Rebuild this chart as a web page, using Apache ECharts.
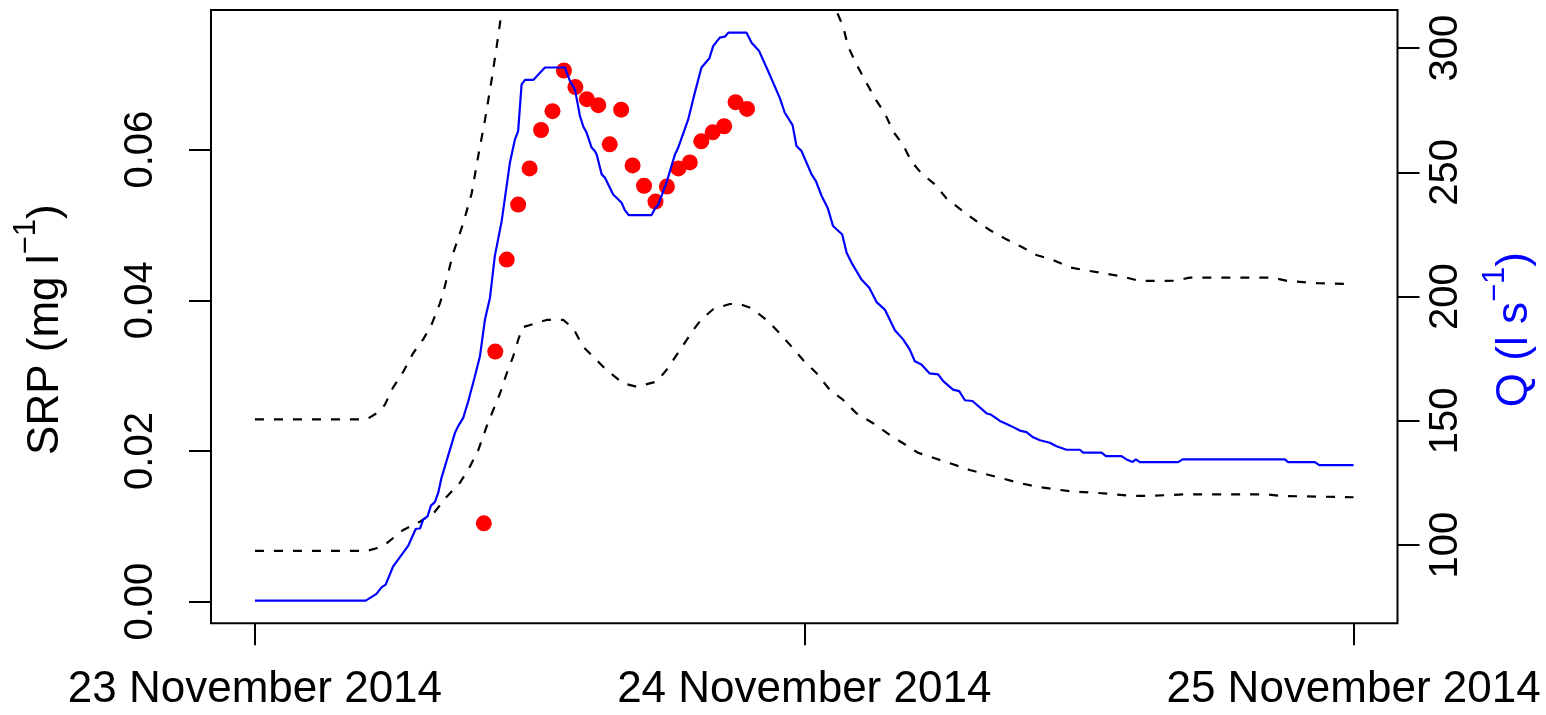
<!DOCTYPE html>
<html>
<head>
<meta charset="utf-8">
<script src="https://cdn.jsdelivr.net/npm/echarts@6/dist/echarts.min.js"></script>
<style>
  html, body { margin: 0; padding: 0; background: #fff; }
  #srpChart { width: 1546px; height: 715px; }
</style>
</head>
<body>
<div id="srpChart"></div>
<script>
// hours since 23 Nov 2014 00:00
const dayTicks = [0, 24, 48]
const dayLabels = ["23 November 2014", "24 November 2014", "25 November 2014"]
const srpTicks = [0, 0.02, 0.04, 0.06]
const qTicks = [100, 150, 200, 250, 300]

// measured SRP (red points)
const srpHours = [10, 10.5, 11, 11.5, 12, 12.5, 13, 13.5, 14, 14.5, 15, 15.5,
  16, 16.5, 17, 17.5, 18, 18.5, 19, 19.5, 20, 20.5, 21, 21.5]
const srpValues = [0.0104, 0.0332, 0.0454, 0.0527, 0.0575, 0.0626, 0.0651, 0.0705,
  0.0683, 0.0667, 0.0659, 0.0607, 0.0653, 0.0579, 0.0552, 0.0531, 0.0551, 0.0575,
  0.0583, 0.0611, 0.0623, 0.0631, 0.0663, 0.0654]

// discharge Q (blue line)
const qHours = [0, 4.84, 5.31, 5.53, 5.71, 6.04, 6.7, 7.03, 7.21, 7.35, 7.54, 7.69,
  7.86, 8.01, 8.15, 8.74, 8.88, 9.1, 9.32, 9.61, 9.83, 10.05, 10.27, 10.48, 10.78,
  11.14, 11.36, 11.5, 11.65, 11.8, 12.16, 12.67, 13.54, 13.76, 13.98, 14.2, 14.34,
  14.49, 14.71, 14.85, 14.93, 15.15, 15.29, 15.65, 15.8, 16.02, 16.16, 16.33, 17.33,
  17.47, 17.62, 17.98, 18.35, 18.49, 18.93, 19.22, 19.51, 19.85, 20.02, 20.31, 20.53,
  20.68, 21.48, 21.7, 22.03, 22.42, 22.93, 23.15, 23.49, 23.66, 23.88, 24.32, 24.51,
  24.76, 25.02, 25.26, 25.66, 25.85, 26.07, 26.5, 26.84, 27.16, 27.52, 27.96, 28.32,
  28.61, 28.83, 29.12, 29.48, 29.85, 30.07, 30.5, 30.77, 31.02, 31.35, 31.97, 32.14,
  32.55, 32.84, 33.13, 33.42, 33.71, 34, 34.3, 34.73, 35.02, 35.46, 36.04, 36.19,
  36.99, 37.18, 37.86, 38.08, 38.35, 38.49, 38.66, 40.34, 40.53, 45, 45.14, 46.31,
  46.5, 48]
const qValues = [77.7, 77.7, 80.4, 83.0, 84.1, 91.5, 99.8, 106.6, 106.7, 110.3, 111.6,
  115.9, 117.3, 121.1, 127.1, 145.2, 147.9, 151.2, 157.9, 168.0, 176.0, 190.8, 199.6,
  216.3, 230.4, 253.9, 263.3, 266.6, 285.4, 287.2, 287.2, 292.2, 292.2, 286.8, 283.4,
  272.7, 268.6, 266.0, 260.0, 258.6, 257.2, 249.2, 247.9, 241.1, 239.8, 237.8, 234.8,
  232.8, 232.8, 235.4, 237.0, 245.9, 257.2, 259.9, 271.3, 282.1, 292.2, 295.8, 300.8,
  304.2, 304.6, 306.2, 306.2, 302.2, 298.8, 290.8, 280.0, 274.0, 269.0, 260.6, 258.6,
  249.2, 246.5, 240.5, 235.8, 228.4, 225.0, 217.7, 213.6, 206.9, 203.6, 197.8, 194.8,
  186.5, 182.8, 178.7, 174.0, 172.7, 169.1, 168.7, 166.0, 162.6, 162.0, 158.3, 158.0,
  153.0, 152.6, 150.0, 148.8, 147.5, 146.1, 145.5, 143.4, 142.2, 141.2, 139.8, 138.4,
  138.4, 137.2, 137.2, 135.8, 135.8, 134.5, 133.5, 134.5, 133.4, 133.4, 134.5, 134.5,
  133.4, 133.4, 132.2, 132.2]

// lower bound (dashed)
const lowerHours = [0, 4.88, 5.31, 5.75, 6.48, 7.21, 7.86, 8.38, 8.96, 9.39, 9.76,
  10.12, 10.41, 10.71, 11, 11.28, 11.5, 11.69, 12.16, 12.74, 13.47, 13.91, 14.34, 15,
  15.36, 16.09, 16.67, 17.55, 17.98, 18.57, 19.15, 19.51, 20.02, 20.75, 21.19, 21.7,
  22.36, 22.93, 23.45, 23.95, 24.54, 25.12, 25.7, 26.28, 27.01, 27.74, 28.32, 28.97,
  29.7, 30.5, 31.23, 32.25, 33.35, 34.15, 34.95, 35.75, 36.63, 37.43, 38.16, 38.96,
  40.71, 44.21, 44.79, 48]
const lowerValues = [0.00673, 0.00673, 0.00709, 0.00775, 0.00952, 0.01062, 0.01194,
  0.01394, 0.0158, 0.01792, 0.02013, 0.02323, 0.02544, 0.02766, 0.03031, 0.03252,
  0.03473, 0.03642, 0.03686, 0.03739, 0.03739, 0.03628, 0.03384, 0.03185, 0.03075,
  0.02898, 0.02853, 0.0292, 0.03075, 0.0334, 0.03606, 0.03748, 0.03881, 0.03951,
  0.03951, 0.03894, 0.03739, 0.03562, 0.03384, 0.03208, 0.03031, 0.0281, 0.02677,
  0.025, 0.02368, 0.02212, 0.02102, 0.01977, 0.01903, 0.01823, 0.01748, 0.01668,
  0.01579, 0.01526, 0.01492, 0.0146, 0.01447, 0.01429, 0.01407, 0.01403, 0.01425,
  0.01425, 0.01403, 0.01386]

// upper bound (dashed, runs off the top between ~11h and ~25h)
const upperHours = [0, 4.88, 5.31, 5.67, 6.04, 6.48, 6.91, 7.35, 7.71, 8.08, 8.22,
  8.66, 9.1, 9.47, 9.75, 10.05, 10.34, 10.56, 10.78, 11.5, 12.2, 12.7, 13.5, 14.3, 15,
  16.1, 16.7, 17.5, 18, 18.6, 19.5, 20.7, 21.2, 21.7, 22.9, 24, 25, 25.34, 25.7, 25.92,
  26.26, 26.65, 27.09, 27.52, 27.89, 28.32, 28.69, 29.12, 29.7, 30.21, 30.87, 31.45,
  32.1, 32.83, 33.49, 34.14, 34.87, 35.59, 36.39, 37.12, 37.92, 38.65, 40.25, 40.83,
  44.46, 45.12, 46.5, 48]
const upperValues = [0.0242, 0.0242, 0.025, 0.0261, 0.02845, 0.03052, 0.03297,
  0.03482, 0.03672, 0.0396, 0.04093, 0.04624, 0.05022, 0.0542, 0.05906, 0.06393,
  0.06924, 0.07366, 0.0783, 0.0985, 0.1045, 0.1065, 0.1065, 0.0975, 0.091, 0.083,
  0.0815, 0.0835, 0.0875, 0.095, 0.1065, 0.1125, 0.1125, 0.111, 0.1015, 0.0915, 0.082,
  0.0789, 0.07631, 0.07366, 0.07145, 0.06924, 0.06681, 0.06482, 0.06238, 0.06061,
  0.05839, 0.05685, 0.0554, 0.05354, 0.05198, 0.05066, 0.04933, 0.04809, 0.04711,
  0.04601, 0.04535, 0.04438, 0.04393, 0.04358, 0.04313, 0.04256, 0.0426, 0.043, 0.043,
  0.04256, 0.04226, 0.04216]

const zip = (xs, ys) => xs.map((x, i) => [x, ys[i]])

const fontFamily = "'Liberation Sans', Arial, sans-serif"
const tickStyle = { color: "#000", width: 2 }

const chart = echarts.init(document.getElementById("srpChart"), null, { renderer: "canvas" })

const options = {
  animation: false,
  backgroundColor: "#fff",
  grid: {
    left: 211,
    top: 10,
    right: 148.5,
    bottom: 91.7,
    outerBoundsMode: "none",
    show: true,
    borderColor: "#000",
    borderWidth: 2,
    backgroundColor: "transparent"
  },
  xAxis: {
    type: "value",
    min: -1.92,
    max: 49.92,
    axisLine: { show: false, onZero: false },
    splitLine: { show: false },
    axisTick: { show: true, customValues: dayTicks, length: 22, lineStyle: tickStyle },
    axisLabel: {
      customValues: dayTicks,
      formatter: v => dayLabels[dayTicks.indexOf(v)],
      fontSize: 44,
      fontFamily: fontFamily,
      color: "#000",
      margin: 45
    }
  },
  yAxis: [
    {
      type: "value",
      position: "left",
      min: -0.00287,
      max: 0.07853,
      axisLine: { show: false, onZero: false },
      splitLine: { show: false },
      axisTick: { show: true, customValues: srpTicks, length: 22, lineStyle: tickStyle },
      axisLabel: {
        customValues: srpTicks,
        formatter: v => v.toFixed(2),
        rotate: 90,
        fontSize: 40,
        fontFamily: fontFamily,
        color: "#000",
        margin: 50
      },
      name: "SRP (mg l{sup|−1})",
      nameLocation: "middle",
      nameRotate: 90,
      nameGap: 130,
      nameTextStyle: {
        fontSize: 44,
        lineHeight: 70,
        fontFamily: fontFamily,
        color: "#000",
        padding: [0, 26, 0, 0],
        rich: {
          sup: { fontSize: 31, lineHeight: 31, fontFamily: fontFamily, color: "#000", verticalAlign: "top" }
        }
      }
    },
    {
      type: "value",
      position: "right",
      min: 68.56,
      max: 315.34,
      axisLine: { show: false, onZero: false },
      splitLine: { show: false },
      axisTick: { show: true, customValues: qTicks, length: 22, lineStyle: tickStyle },
      axisLabel: {
        customValues: qTicks,
        rotate: 90,
        fontSize: 40,
        fontFamily: fontFamily,
        color: "#000",
        margin: 28
      },
      name: "Q (l s{sup|−1})",
      nameLocation: "middle",
      nameRotate: 90,
      nameGap: 82,
      nameTextStyle: {
        fontSize: 44,
        lineHeight: 70,
        fontFamily: fontFamily,
        color: "#0000ff",
        padding: [0, 26, 0, 0],
        rich: {
          sup: { fontSize: 31, lineHeight: 31, fontFamily: fontFamily, color: "#0000ff", verticalAlign: "top" }
        }
      }
    }
  ],
  series: [
    {
      name: "lower",
      type: "line",
      yAxisIndex: 0,
      data: zip(lowerHours, lowerValues),
      showSymbol: false,
      lineStyle: { color: "#000", width: 2.2, type: [9, 10] },
      z: 2
    },
    {
      name: "upper",
      type: "line",
      yAxisIndex: 0,
      data: zip(upperHours, upperValues),
      showSymbol: false,
      clip: true,
      lineStyle: { color: "#000", width: 2.2, type: [9, 10] },
      z: 2
    },
    {
      name: "SRP",
      type: "scatter",
      yAxisIndex: 0,
      data: zip(srpHours, srpValues),
      symbol: "circle",
      symbolSize: 16,
      itemStyle: { color: "#ff0000", opacity: 1 },
      z: 3
    },
    {
      name: "Q",
      type: "line",
      yAxisIndex: 1,
      data: zip(qHours, qValues),
      showSymbol: false,
      lineStyle: { color: "#0000ff", width: 2.2 },
      z: 4
    }
  ]
}

chart.setOption(options)
window.onresize = function () {
  chart.resize()
}
</script>
</body>
</html>
